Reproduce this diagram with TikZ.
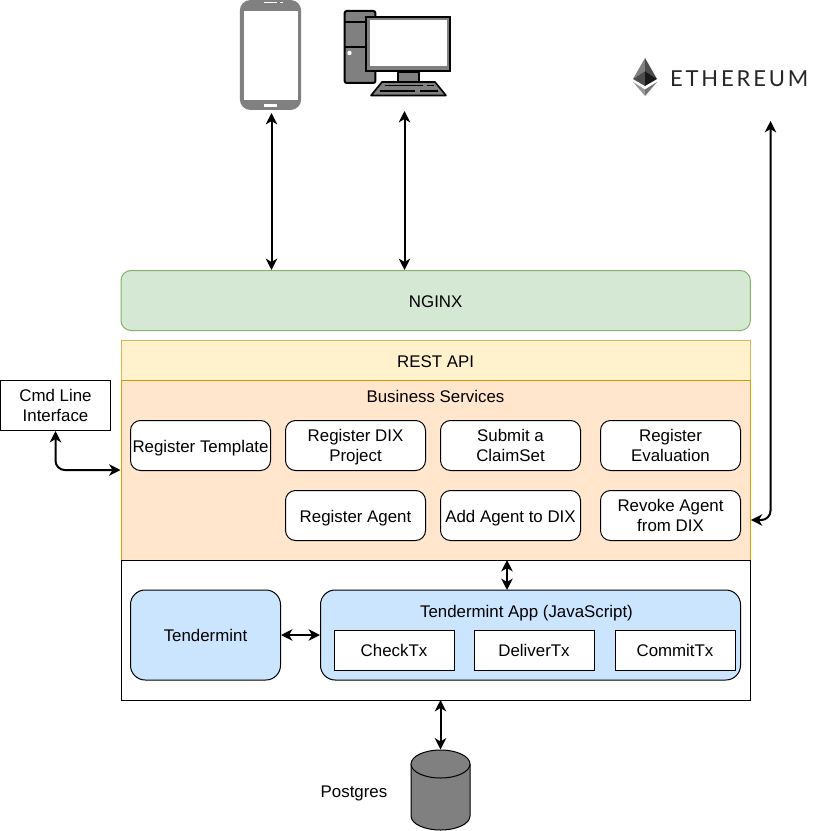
\documentclass[tikz,border=0pt]{standalone}
\usepackage{fontspec}
\setmainfont{Liberation Sans}
\newfontfamily\ethfont[LetterSpace=13]{Lato}
\usetikzlibrary{calc, arrows.meta}
\definecolor{nginxfill}{HTML}{D5E8D4}
\definecolor{nginxline}{HTML}{82B366}
\definecolor{restfill}{HTML}{FFF2CC}
\definecolor{restline}{HTML}{D6B656}
\definecolor{bizfill}{HTML}{FFE6CC}
\definecolor{bizline}{HTML}{D79B00}
\definecolor{tenderfill}{HTML}{CCE5FF}
\definecolor{icongray}{HTML}{808080}
\newcommand{\labelstrut}{\rule[-2.7pt]{0pt}{15.4pt}}

\begin{document}
\begin{tikzpicture}[x=0.75pt, y=-0.75pt, font=\fontsize{12.65pt}{15pt}\selectfont, line width=0.75pt]

    \useasboundingbox (0,0) rectangle (831,831);

    \tikzstyle{struted}=[execute at begin node=\labelstrut, inner sep=0pt];
    \tikzstyle{layer}=[struted, rectangle, draw, minimum width=472pt, anchor=north west];
    \tikzstyle{twoline}=[rectangle, rounded corners=7.5pt, draw=black, fill=white, minimum width=105pt, minimum height=37.5pt, align=center, inner sep=0pt];
    \tikzstyle{service}=[struted, rectangle, rounded corners=7.5pt, draw=black, fill=white, minimum width=105pt, minimum height=37.5pt];
    \tikzstyle{tx}=[struted, rectangle, draw=black, fill=white, minimum width=90pt, minimum height=30pt];
    \tikzstyle{tenderbox}=[struted, rectangle, rounded corners=11pt, draw=black, fill=tenderfill, minimum height=67.5pt];
    \tikzstyle{link}=[{Stealth[length=8.5pt,width=8.5pt,inset=2.5pt]}-{Stealth[length=8.5pt,width=8.5pt,inset=2.5pt]}, line width=1.5pt, rounded corners=7pt];

    \node[layer, draw=nginxline, fill=nginxfill, rounded corners=7.5pt, minimum height=45pt] (nginx) at (120.5,270) {NGINX};
    \node[layer, draw=restline, fill=restfill, minimum height=30pt] (rest) at (120.5,340) {REST API};
    \node[layer, draw=bizline, fill=bizfill, minimum height=135pt] (business) at (120.5,380) {};
    \node[struted] (businesstitle) at (435.5,396) {Business Services};
    \node[layer, draw=black, fill=white, minimum height=105pt] (core) at (120.5,560) {};

    \node[service] (template) at (200.5,445.5) {Register Template};
    \node[twoline] (project) at (355.5,445.5) {\rule{0pt}{11.8pt}Register DIX\\Project};
    \node[twoline] (claimset) at (510.5,445.5) {Submit a\\ClaimSet};
    \node[twoline] (evaluation) at (670.5,445.5) {Register\\Evaluation};
    \node[service] (agent) at (355.5,515.5) {Register Agent};
    \node[service] (addagent) at (510.5,515.5) {Add Agent to DIX};
    \node[twoline] (revoke) at (670.5,515.5) {Revoke Agent\\from DIX};

    \node[tenderbox, minimum width=112.5pt] (tendermint) at (205.5,635) {Tendermint};
    \node[tenderbox, minimum width=315pt] (app) at (530.5,635) {};
    \node[struted] (apptitle) at (526.5,611) {Tendermint App (JavaScript)};

    \node[tx] (checktx) at (394,650) {CheckTx};
    \node[tx] (delivertx) at (534,650) {DeliverTx};
    \node[tx] (committx) at (675,650) {CommitTx};

    \node[twoline, rounded corners=0pt, minimum width=82pt] (cmd) at (55.5,405.5) {Cmd Line\\Interface};

    % postgres
    \node[rectangle, minimum width=44.25pt, minimum height=60pt, inner sep=0pt] (postgres) at (440.5,790) {};
    \filldraw[fill=icongray, draw=black] (411,764) -- (411,816) arc[start angle=180, end angle=0, x radius=29.5, y radius=14] -- (470,764);
    \filldraw[fill=icongray, draw=black] (440.5,764) ellipse [x radius=29.5, y radius=14];
    \node[struted] (postgreslabel) at (354,791) {Postgres};

    % phone
    \node[rectangle, rounded corners=8pt, fill=icongray, minimum width=46pt, minimum height=82.5pt, inner sep=0pt] (phone) at (270.5,55) {};
    \fill[white] (243.5,11) rectangle (298,100);
    \fill[white] (264,104) rectangle (277,107.5);
    \fill[white] (264,2) rectangle (277,3);
    \fill[white] (280,2) rectangle (283,3.5);
    \coordinate (phonelink) at (271.5,113);

    % desktop
    \node[rectangle, rounded corners=1.5pt, draw=black, line width=1.5pt, fill=icongray, minimum width=23pt, minimum height=54pt, inner sep=0pt] (tower) at (360,47) {};
    \draw[black, line width=1.5pt] (345,22.5) -- (366,22.5) (345,47) -- (366,47);
    \fill[white] (349.5,53) circle (2.2);
    \filldraw[fill=icongray, draw=black, line width=1.5pt] (397.5,72) rectangle (419,83);
    \node[rectangle, draw=black, line width=1.5pt, fill=icongray, minimum width=62.5pt, minimum height=40.5pt, inner sep=0pt] (monitor) at (408,44) {};
    \fill[white] (370,20.5) rectangle (446.5,66.5);
    \filldraw[fill=icongray, draw=black, line width=1.2pt, line join=round] (382,82) -- (435,82) -- (446,95.5) -- (371,95.5) -- cycle;
    \draw[black, line width=1.2pt] (385,85.5) -- (423,85.5) (380,91) -- (415,91);
    \draw[black, line width=1.2pt] (427,85.5) -- (434,85.5) (420,91) -- (438,91);
    \coordinate (desktop) at (404.5,111);

    % ethereum
    \fill[black!50] (645,58) -- (633,79) -- (645,71) -- cycle;
    \fill[black!70] (645,58) -- (657,79) -- (645,71) -- cycle;
    \fill[black!70] (633,79) -- (645,71) -- (645,86) -- cycle;
    \fill[black!90] (657,79) -- (645,71) -- (645,86) -- cycle;
    \fill[black!40] (633,82) -- (645,89.5) -- (645,96) -- cycle;
    \fill[black!55] (657,82) -- (645,89.5) -- (645,96) -- cycle;
    \node[inner sep=0pt, font=\ethfont\fontsize{16.5pt}{17pt}\selectfont, color=black!85, anchor=west] (ethereum) at (669.5,79) {ETHEREUM};
    \coordinate (ethlink) at (770.5,121);

    % connectors
    \draw[link] (phonelink) -- (phonelink |- nginx.north);
    \draw[link] (desktop) -- (desktop |- nginx.north);
    \draw[link] (ethlink) -- (770.5,520) -- (business.east |- 0,520);
    \draw[link] (cmd.south) -- (55.5,470) -- (business.west |- 0,470);
    \draw[link] (507,560) -- (507,590);
    \draw[link] (tendermint.east) -- (app.west);
    \draw[link] (440.5,700) -- (postgres.north);

\end{tikzpicture}
\end{document}
